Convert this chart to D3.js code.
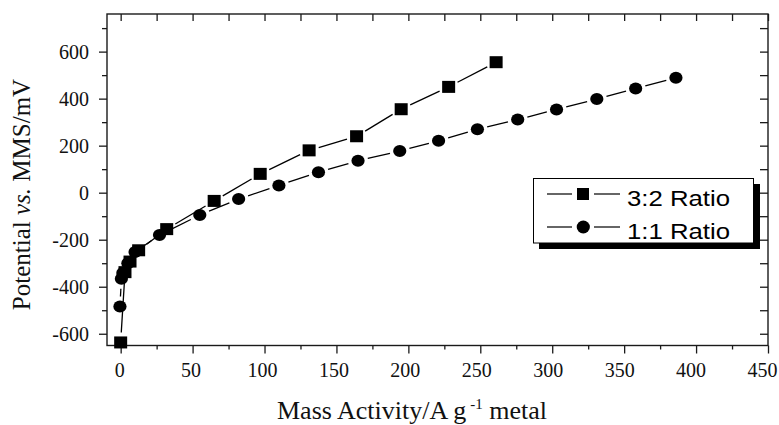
<!DOCTYPE html>
<html>
<head>
<meta charset="utf-8">
<script src="https://cdn.jsdelivr.net/npm/d3@7"></script>
<style>
  html, body { margin: 0; padding: 0; background: #fff; }
  svg { display: block; }
  .serif { font-family: "Liberation Serif", "Times New Roman", serif; }
</style>
</head>
<body>
<svg id="chart" width="779" height="425"></svg>
<script>
// ---- data ----
const seriesNames = ["3:2 Ratio", "1:1 Ratio"];
const ratio32X = [0, 3, 6.5, 12.5, 32, 65, 97, 131, 164, 195, 228, 261];
const ratio32Y = [-637, -338, -293, -245, -155, -35, 80, 180, 240, 355, 450, 555];
const ratio11X = [-0.5, 0.5, 1.5, 5, 10, 27, 55, 82, 110, 137.5, 165, 194, 221, 248, 276, 303, 331, 358, 386];
const ratio11Y = [-484, -366, -342, -300, -252, -180, -95, -27, 31, 87, 136, 177, 221, 270, 311, 354, 398, 443, 489];
const xTickValues = [0, 50, 100, 150, 200, 250, 300, 350, 400, 450];
const yTickValues = [-600, -400, -200, 0, 200, 400, 600];
const xLabel = "Mass Activity/A g";
const xLabelSup = "-1";
const xLabelTail = " metal";

// ---- layout ----
const svg = d3.select("#chart");
const L = 107, R = 768, T = 14, B = 345.5;
const x = d3.scaleLinear().domain([-9.5, 450]).range([L, R]);
const y = d3.scaleLinear().domain([-650, 760]).range([B, T]);
const serif = "'Liberation Serif', 'Times New Roman', serif";
const sans = "'Liberation Sans', Arial, sans-serif";
const axisColor = "#1a1a1a";

// minor tick values
const xMinor = d3.range(25, 450, 50);
const xAll = d3.range(0, 451, 25);
const yMinor = d3.range(-500, 760, 200);
const yAll = d3.range(-600, 701, 100);

function styleAxis(g) {
  g.attr("font-family", null).attr("font-size", null);
  g.select(".domain").remove();
  g.selectAll(".tick line").attr("stroke", axisColor).attr("stroke-width", 1.3);
  g.selectAll(".tick text")
    .attr("class", "serif")
    .style("font-family", serif)
    .style("font-size", "20px")
    .attr("fill", "#111")
    .text(function() { return d3.select(this).text().replace("\u2212", "-"); });
}

// bottom axis (major + minor, outward)
svg.append("g").attr("transform", `translate(0,${B})`)
  .call(d3.axisBottom(x).tickValues(xTickValues).tickSize(8).tickPadding(9).tickFormat(d3.format("d")))
  .call(styleAxis)
  .call(g => g.selectAll(".tick text").attr("dx", d => -1.5 - 4.5 * d / 450));
svg.append("g").attr("transform", `translate(0,${B})`)
  .call(d3.axisBottom(x).tickValues(xMinor).tickSize(4).tickFormat(""))
  .call(styleAxis);
// top axis (inward)
svg.append("g").attr("transform", `translate(0,${T})`)
  .call(d3.axisBottom(x).tickValues(xAll).tickSize(7).tickFormat(""))
  .call(styleAxis);
// left axis (outward)
svg.append("g").attr("transform", `translate(${L},0)`)
  .call(d3.axisLeft(y).tickValues(yTickValues).tickSize(8).tickPadding(10).tickFormat(d3.format("d")))
  .call(styleAxis);
svg.append("g").attr("transform", `translate(${L},0)`)
  .call(d3.axisLeft(y).tickValues(yMinor).tickSize(5).tickFormat(""))
  .call(styleAxis);
// right axis (inward)
svg.append("g").attr("transform", `translate(${R},0)`)
  .call(d3.axisRight(y).tickValues(yAll).tickSize(-8).tickFormat(""))
  .call(styleAxis);

// frame
svg.append("rect").attr("x", L).attr("y", T).attr("width", R - L).attr("height", B - T)
  .attr("fill", "none").attr("stroke", axisColor).attr("stroke-width", 1.4);

// ---- series ----
function points(xs, ys) { return xs.map((v, i) => [x(v), y(ys[i])]); }
function drawGappedLine(pts, gap) {
  const g = svg.append("g");
  for (let i = 0; i < pts.length - 1; i++) {
    const [x1, y1] = pts[i], [x2, y2] = pts[i + 1];
    const dx = x2 - x1, dy = y2 - y1, d = Math.hypot(dx, dy);
    if (d <= 2 * gap + 1) continue;
    const ux = dx / d, uy = dy / d;
    g.append("line")
      .attr("x1", x1 + ux * gap).attr("y1", y1 + uy * gap)
      .attr("x2", x2 - ux * gap).attr("y2", y2 - uy * gap)
      .attr("stroke", "#000").attr("stroke-width", 1.3);
  }
}
const p32 = points(ratio32X, ratio32Y);
const p11 = points(ratio11X, ratio11Y);
drawGappedLine(p32, 10);
drawGappedLine(p11, 10);

svg.append("g").selectAll("ellipse").data(p11).join("ellipse")
  .attr("cx", d => d[0]).attr("cy", d => d[1]).attr("rx", 6.6).attr("ry", 6).attr("fill", "#000");
svg.append("g").selectAll("rect").data(p32).join("rect")
  .attr("x", d => d[0] - 6.5).attr("y", d => d[1] - 6).attr("width", 13).attr("height", 12).attr("fill", "#000");

// ---- legend ----
const lg = svg.append("g");
lg.append("rect").attr("x", 539).attr("y", 184).attr("width", 221).attr("height", 65).attr("fill", "#000");
lg.append("rect").attr("x", 533.5).attr("y", 178.5).attr("width", 220).attr("height", 64.5)
  .attr("fill", "#fff").attr("stroke", "#000").attr("stroke-width", 1);
const rowsY = [194, 227];
rowsY.forEach((ry, i) => {
  lg.append("line").attr("x1", 547).attr("x2", 572).attr("y1", ry).attr("y2", ry).attr("stroke", "#000").attr("stroke-width", 1.2);
  lg.append("line").attr("x1", 594).attr("x2", 620).attr("y1", ry).attr("y2", ry).attr("stroke", "#000").attr("stroke-width", 1.2);
  if (i === 0) {
    lg.append("rect").attr("x", 577).attr("y", ry - 6).attr("width", 12).attr("height", 12).attr("fill", "#000");
  } else {
    lg.append("ellipse").attr("cx", 583.3).attr("cy", ry).attr("rx", 6.6).attr("ry", 6.4).attr("fill", "#000");
  }
  lg.append("text").attr("x", 627).attr("y", ry + 11.5)
    .style("font-family", sans).style("font-size", "22px")
    .attr("textLength", 103).attr("lengthAdjust", "spacingAndGlyphs")
    .text(seriesNames[i]);
});

// ---- axis titles ----
const xt = svg.append("text").attr("x", 277).attr("y", 419)
  .style("font-family", serif).style("font-size", "26px").attr("fill", "#111");
xt.append("tspan").text(xLabel);
xt.append("tspan").attr("dx", 4).attr("dy", -10).style("font-size", "15px").text(xLabelSup);
xt.append("tspan").attr("dy", 10).text(xLabelTail);

const yt = svg.append("text")
  .attr("transform", `translate(30,194.5) rotate(-90)`)
  .attr("text-anchor", "middle")
  .style("font-family", serif).style("font-size", "25px").attr("fill", "#111");
yt.append("tspan").text("Potential ");
yt.append("tspan").style("font-style", "italic").text("vs.");
yt.append("tspan").text(" MMS/mV");
</script>
</body>
</html>
